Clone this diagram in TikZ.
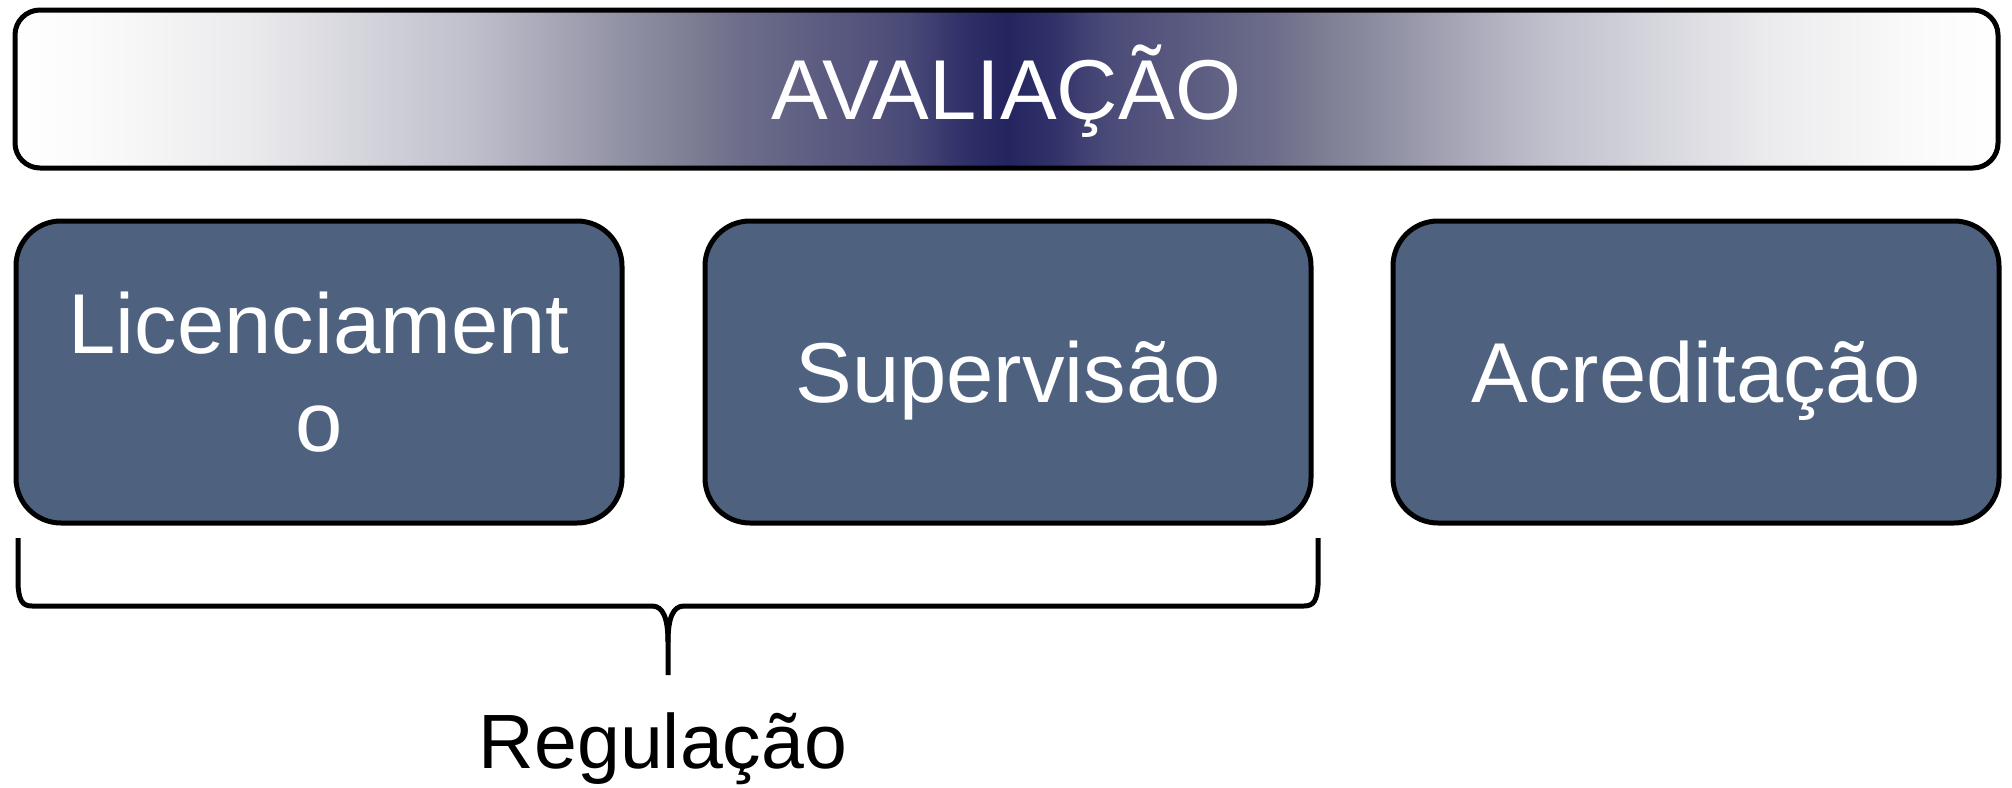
\documentclass[tikz,border=0pt]{standalone}
\usepackage{fontspec}
\setmainfont{Liberation Sans}
\definecolor{boxblue}{RGB}{78,98,128}
\pgfdeclarehorizontalshading{avalshade}{100bp}{rgb(0bp)=(1,1,1); rgb(25bp)=(1,1,1); rgb(27.15bp)=(0.98,0.98,0.98); rgb(30.9bp)=(0.92,0.92,0.93); rgb(36.5bp)=(0.75,0.75,0.80); rgb(42.25bp)=(0.48,0.48,0.57); rgb(43.5bp)=(0.42,0.42,0.54); rgb(47.5bp)=(0.29,0.29,0.47); rgb(48.75bp)=(0.2,0.2,0.42); rgb(50bp)=(0.14,0.14,0.37); rgb(51.25bp)=(0.2,0.2,0.42); rgb(52.5bp)=(0.29,0.29,0.47); rgb(56.5bp)=(0.42,0.42,0.54); rgb(57.75bp)=(0.48,0.48,0.57); rgb(63.5bp)=(0.75,0.75,0.80); rgb(69.1bp)=(0.92,0.92,0.93); rgb(72.85bp)=(0.98,0.98,0.98); rgb(75bp)=(1,1,1); rgb(100bp)=(1,1,1)}
\tikzset{
  bigtext/.style={font=\fontsize{85}{98}\selectfont},
  topbar/.style={draw=black, line width=5pt, rounded corners=25pt, shade, shading=avalshade,
    minimum width=1983pt, minimum height=158pt, inner sep=0pt, text=white, bigtext,
    text height=61pt, text depth=0pt},
  bluebox/.style={draw=black, line width=5pt, rounded corners=45pt, fill=boxblue,
    minimum width=606pt, minimum height=302pt, inner sep=0pt, text=white, bigtext, align=center},
  brace/.style={draw=black, line width=5pt, line join=round}
}
\begin{document}
\begin{tikzpicture}[x=1pt,y=-1pt]
\fill[white] (0,0) rectangle (2012,787);
\useasboundingbox (0,0) rectangle (2012,787);
\node[topbar] (aval) at (1006.5,89) {AVALIAÇÃO};
\node[bluebox] (lic) at (319,372) {Licenciament\\o};
\node[bluebox, text height=61pt, text depth=0pt] (sup) at (1008,372) {Supervisão};
\node[bluebox, text height=61pt, text depth=0pt] (acr) at (1696,372) {Acreditação};
\coordinate (bl) at (18,538);
\coordinate (br) at (1318,538);
\coordinate (tip) at (668,675);
\draw[brace] (bl) -- (18,585) .. controls (19,600) and (22,606) .. (32,606) -- (652,606) .. controls (663,606) and (668,618) .. (668,642) -- (tip);
\draw[brace] (br) -- (1318,585) .. controls (1317,600) and (1314,606) .. (1304,606) -- (684,606) .. controls (673,606) and (668,618) .. (668,642);
\node[anchor=base, font=\fontsize{77}{90}\selectfont] (reg) at (663,768) {Regulação};
\end{tikzpicture}
\end{document}
